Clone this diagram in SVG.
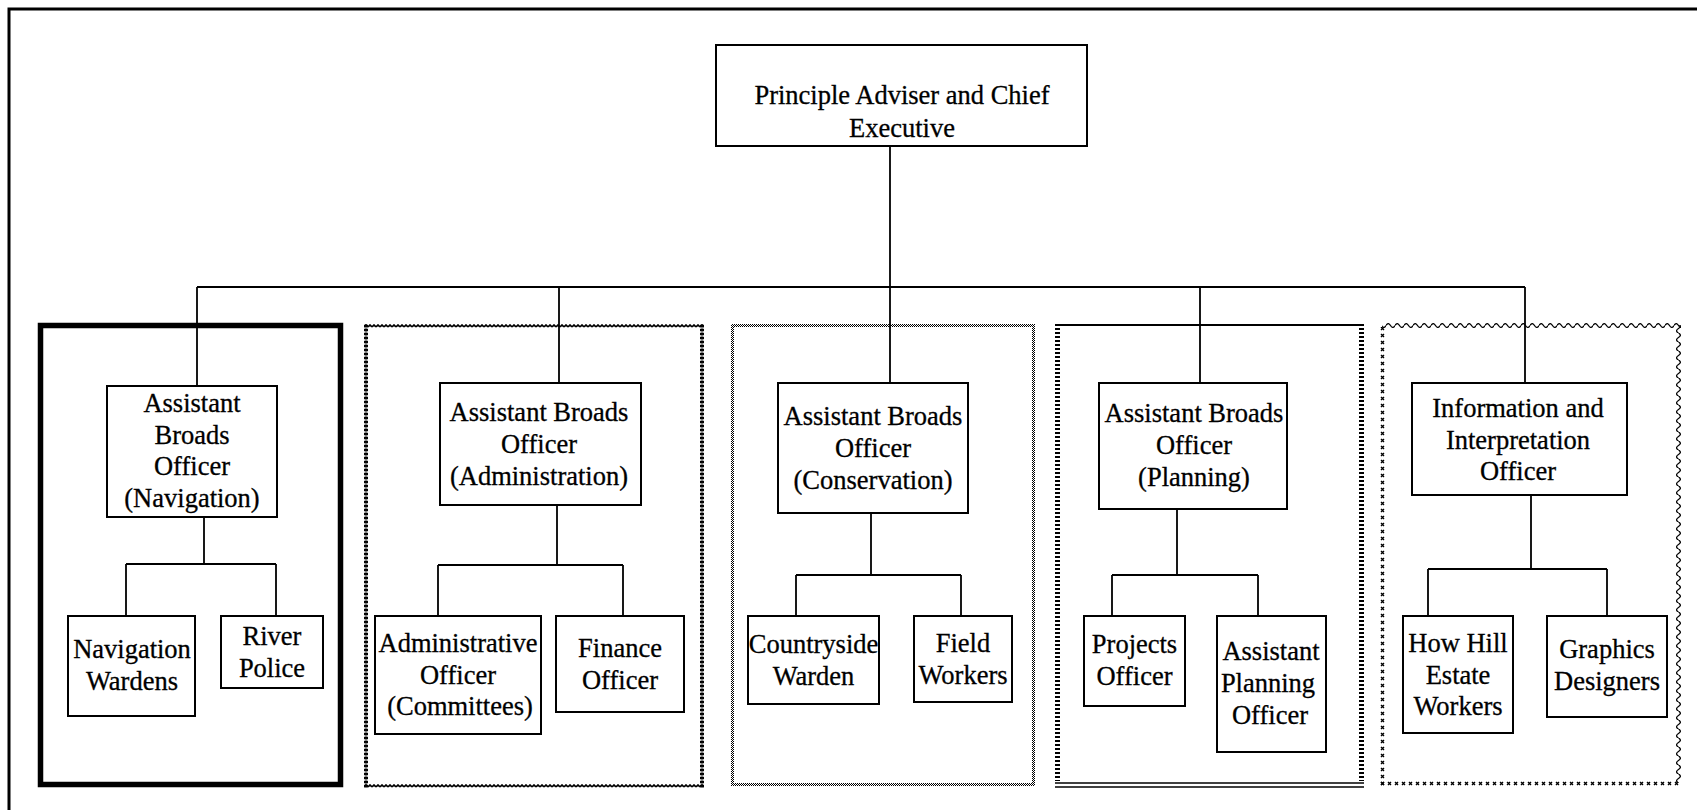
<svg xmlns="http://www.w3.org/2000/svg" width="1697" height="810" viewBox="0 0 1697 810">
<style>
.box{fill:#fff;stroke:#000;stroke-width:2}
.t{font-family:"Liberation Serif","Times New Roman",serif;font-size:26.5px;fill:#000;stroke:#000;stroke-width:0.3;text-anchor:middle}
.ln{fill:none;stroke:#000;stroke-width:1.8}
</style>
<defs>
<pattern id="zigH" width="4" height="4" patternUnits="userSpaceOnUse"><path d="M0,3 L2,1 L4,3" fill="none" stroke="#000" stroke-width="1.6"/></pattern>
<pattern id="chainV" width="4" height="4" patternUnits="userSpaceOnUse"><path d="M0,1 L2,3 L4,1 M0,3 L2,1 L4,3" fill="none" stroke="#000" stroke-width="1.3"/></pattern>
<pattern id="dots" width="2" height="2" patternUnits="userSpaceOnUse"><rect x="0" y="0" width="1" height="1" fill="#000"/><rect x="1" y="1" width="1" height="1" fill="#000"/></pattern>
<pattern id="waveH" x="0" y="323" width="9" height="5" patternUnits="userSpaceOnUse"><path d="M0,2.5 C1.5,0 3,0 4.5,2.5 S7.5,5 9,2.5" fill="none" stroke="#000" stroke-width="1.3"/></pattern>
<pattern id="waveV" width="9" height="5" patternUnits="userSpaceOnUse" patternTransform="translate(1681,0) rotate(90)"><path d="M0,2.5 C1.5,0 3,0 4.5,2.5 S7.5,5 9,2.5" fill="none" stroke="#000" stroke-width="1.3"/></pattern>
<pattern id="cross" x="1379" y="780" width="7" height="7" patternUnits="userSpaceOnUse"><path d="M2,2 L5,5 M5,2 L2,5" fill="none" stroke="#000" stroke-width="1.4"/></pattern>
</defs>

<path d="M9,810 V9 H1697" fill="none" stroke="#000" stroke-width="3"/>

<g id="sections">
  <rect id="sec-navigation" x="40.5" y="325.5" width="300" height="459" fill="none" stroke="#000" stroke-width="5.5"/>
  <g id="sec-administration">
    <rect x="364" y="324" width="340" height="4" fill="url(#zigH)"/>
    <rect x="364" y="784" width="340" height="4" fill="url(#zigH)"/>
    <rect x="364" y="324" width="4" height="464" fill="url(#chainV)"/>
    <rect x="700" y="324" width="4" height="464" fill="url(#chainV)"/>
  </g>
  <g id="sec-conservation">
    <rect x="731" y="324" width="304" height="3" fill="url(#dots)"/>
    <rect x="731" y="783" width="304" height="3" fill="url(#dots)"/>
    <rect x="731" y="324" width="3" height="462" fill="url(#dots)"/>
    <rect x="1032" y="324" width="3" height="462" fill="url(#dots)"/>
  </g>
  <g id="sec-planning" fill="none" stroke="#000">
    <line x1="1055" y1="325" x2="1364" y2="325" stroke-width="2"/>
    <line x1="1057.5" y1="328" x2="1057.5" y2="781" stroke-width="5" stroke-dasharray="2 2"/>
    <line x1="1361.5" y1="328" x2="1361.5" y2="781" stroke-width="5" stroke-dasharray="2 2"/>
    <line x1="1055" y1="783" x2="1364" y2="783" stroke-width="1.5"/>
    <line x1="1055" y1="787" x2="1364" y2="787" stroke-width="1.5"/>
  </g>
  <g id="sec-information">
    <rect x="1382" y="323" width="299" height="5" fill="url(#waveH)"/>
    <rect x="1676" y="325" width="5" height="458" fill="url(#waveV)"/>
    <rect x="1379" y="327" width="7" height="460" fill="url(#cross)"/>
    <rect x="1379" y="780" width="301" height="7" fill="url(#cross)"/>
  </g>
</g>

<g id="connectors" class="ln">
  <path d="M890,146 V287"/>
  <path d="M197,287 H1525"/>
  <path d="M197,287 V386 M559,287 V383 M890,287 V383 M1200,287 V383 M1525,287 V383"/>
  <path d="M204,517 V564 M126,564 H276 M126,564 V616 M276,564 V616"/>
  <path d="M557,505 V565 M438,565 H623 M438,565 V616 M623,565 V616"/>
  <path d="M871,513 V575 M796,575 H961 M796,575 V616 M961,575 V616"/>
  <path d="M1177,509 V575 M1112,575 H1258 M1112,575 V616 M1258,575 V616"/>
  <path d="M1531,495 V569 M1428,569 H1607 M1428,569 V616 M1607,569 V616"/>
</g>

<g id="chief">
  <rect class="box" x="716" y="45" width="371" height="101"/>
  <text class="t" x="902" y="104">Principle Adviser and Chief</text>
  <text class="t" x="902" y="137">Executive</text>
</g>

<g id="abo-navigation">
  <rect class="box" x="107" y="386" width="170" height="131"/>
  <text class="t" x="192" y="412">Assistant</text>
  <text class="t" x="192" y="443.5">Broads</text>
  <text class="t" x="192" y="475">Officer</text>
  <text class="t" x="192" y="506.5">(Navigation)</text>
</g>
<g id="navigation-wardens">
  <rect class="box" x="68" y="616" width="127" height="100"/>
  <text class="t" x="132" y="658">Navigation</text>
  <text class="t" x="132" y="690">Wardens</text>
</g>
<g id="river-police">
  <rect class="box" x="221" y="616" width="102" height="72"/>
  <text class="t" x="272" y="645">River</text>
  <text class="t" x="272" y="677">Police</text>
</g>

<g id="abo-administration">
  <rect class="box" x="440" y="383" width="201" height="122"/>
  <text class="t" x="539" y="421">Assistant Broads</text>
  <text class="t" x="539" y="453">Officer</text>
  <text class="t" x="539" y="485">(Administration)</text>
</g>
<g id="administrative-officer">
  <rect class="box" x="375" y="616" width="166" height="118"/>
  <text class="t" x="458" y="652">Administrative</text>
  <text class="t" x="458" y="683.5">Officer</text>
  <text class="t" x="460" y="715">(Committees)</text>
</g>
<g id="finance-officer">
  <rect class="box" x="556" y="616" width="128" height="96"/>
  <text class="t" x="620" y="657">Finance</text>
  <text class="t" x="620" y="688.5">Officer</text>
</g>

<g id="abo-conservation">
  <rect class="box" x="778" y="383" width="190" height="130"/>
  <text class="t" x="873" y="425">Assistant Broads</text>
  <text class="t" x="873" y="457">Officer</text>
  <text class="t" x="873" y="488.5">(Conservation)</text>
</g>
<g id="countryside-warden">
  <rect class="box" x="748" y="616" width="131" height="88"/>
  <text class="t" x="813.5" y="653">Countryside</text>
  <text class="t" x="813.5" y="685">Warden</text>
</g>
<g id="field-workers">
  <rect class="box" x="914" y="616" width="98" height="86"/>
  <text class="t" x="963" y="652">Field</text>
  <text class="t" x="963" y="683.5">Workers</text>
</g>

<g id="abo-planning">
  <rect class="box" x="1099" y="383" width="188" height="126"/>
  <text class="t" x="1194" y="422">Assistant Broads</text>
  <text class="t" x="1194" y="454">Officer</text>
  <text class="t" x="1194" y="486">(Planning)</text>
</g>
<g id="projects-officer">
  <rect class="box" x="1084" y="616" width="101" height="90"/>
  <text class="t" x="1134.5" y="653">Projects</text>
  <text class="t" x="1134.5" y="685">Officer</text>
</g>
<g id="assistant-planning-officer">
  <rect class="box" x="1217" y="616" width="109" height="136"/>
  <text class="t" x="1271" y="660">Assistant</text>
  <text class="t" x="1268" y="692">Planning</text>
  <text class="t" x="1270" y="723.5">Officer</text>
</g>

<g id="information-officer">
  <rect class="box" x="1412" y="383" width="215" height="112"/>
  <text class="t" x="1518" y="417">Information and</text>
  <text class="t" x="1518" y="449">Interpretation</text>
  <text class="t" x="1518" y="480">Officer</text>
</g>
<g id="how-hill-estate-workers">
  <rect class="box" x="1403" y="616" width="110" height="117"/>
  <text class="t" x="1458" y="652">How Hill</text>
  <text class="t" x="1458" y="683.5">Estate</text>
  <text class="t" x="1458" y="715">Workers</text>
</g>
<g id="graphics-designers">
  <rect class="box" x="1547" y="616" width="120" height="101"/>
  <text class="t" x="1607" y="658">Graphics</text>
  <text class="t" x="1607" y="690">Designers</text>
</g>
</svg>
